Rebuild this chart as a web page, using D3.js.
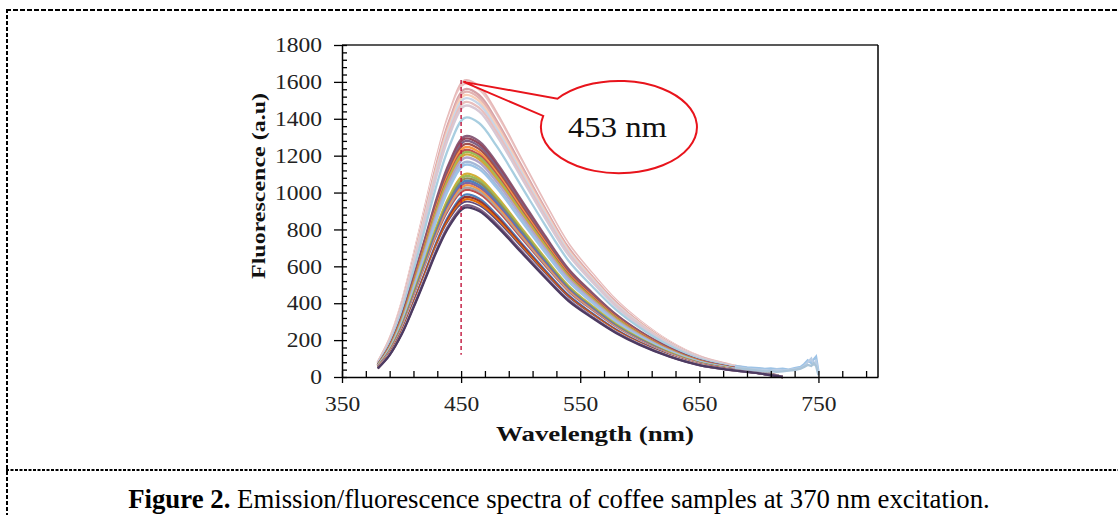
<!DOCTYPE html>
<html>
<head>
<meta charset="utf-8">
<script src="https://cdn.jsdelivr.net/npm/d3@7"></script>
<style>
  body { margin: 0; background: #fff; }
  svg { display: block; }
  text { font-family: "Liberation Serif", "Times New Roman", serif; }
</style>
</head>
<body>
<div id="chart"></div>
<script>
// ---- data ----
const wavelengths = [380, 390, 400, 410, 420, 430, 440, 453, 465, 480, 500, 520, 540, 560, 580, 600, 625, 650, 675, 700, 720];

// one row per coffee sample (fluorescence, a.u.)
const spectra = [
  [80, 209, 402, 659, 933, 1206, 1431, 1608, 1576, 1431, 1190, 949, 724, 563, 418, 306, 193, 113, 68, 35, 0],
  [80, 207, 398, 652, 922, 1193, 1415, 1590, 1558, 1415, 1177, 938, 716, 557, 413, 302, 191, 111, 67, 35, 0],
  [79, 205, 394, 645, 913, 1181, 1401, 1574, 1543, 1401, 1165, 929, 708, 551, 409, 299, 189, 110, 66, 35, 0],
  [78, 203, 390, 640, 905, 1170, 1388, 1560, 1529, 1388, 1154, 920, 702, 546, 406, 296, 187, 109, 66, 34, 0],
  [77, 201, 386, 633, 896, 1159, 1375, 1545, 1514, 1375, 1143, 912, 695, 541, 402, 294, 185, 108, 65, 34, 0],
  [76, 199, 382, 626, 886, 1146, 1360, 1528, 1497, 1360, 1131, 902, 688, 535, 397, 290, 183, 107, 64, 34, 0],
  [76, 196, 378, 619, 876, 1133, 1344, 1510, 1480, 1344, 1117, 891, 680, 529, 393, 287, 181, 106, 63, 33, 0],
  [75, 194, 373, 611, 864, 1118, 1326, 1490, 1460, 1326, 1103, 879, 671, 522, 387, 283, 179, 104, 63, 33, 0],
  [74, 191, 368, 603, 853, 1103, 1308, 1470, 1441, 1308, 1088, 867, 662, 515, 382, 279, 176, 103, 62, 32, 0],
  [70, 183, 351, 576, 815, 1054, 1250, 1405, 1377, 1250, 1040, 829, 632, 492, 365, 267, 169, 98, 59, 31, 0],
  [65, 170, 326, 535, 757, 979, 1161, 1305, 1279, 1161, 966, 770, 587, 457, 339, 248, 157, 91, 55, 29, 0],
  [65, 168, 323, 530, 749, 969, 1150, 1292, 1266, 1150, 956, 762, 581, 452, 336, 245, 155, 90, 54, 28, 0],
  [64, 166, 320, 524, 741, 959, 1137, 1278, 1252, 1137, 946, 754, 575, 447, 332, 243, 153, 89, 54, 28, 0],
  [63, 164, 316, 517, 732, 947, 1123, 1262, 1237, 1123, 934, 745, 568, 442, 328, 240, 151, 88, 53, 28, 0],
  [62, 162, 311, 510, 722, 934, 1108, 1245, 1220, 1108, 921, 735, 560, 436, 324, 237, 149, 87, 52, 27, 0],
  [62, 160, 308, 504, 713, 923, 1095, 1230, 1205, 1095, 910, 726, 554, 431, 320, 234, 148, 86, 52, 27, 0],
  [61, 158, 305, 499, 706, 914, 1084, 1218, 1194, 1084, 901, 719, 548, 426, 317, 231, 146, 85, 51, 27, 0],
  [60, 157, 301, 494, 699, 904, 1072, 1205, 1181, 1072, 892, 711, 542, 422, 313, 229, 145, 84, 51, 27, 0],
  [59, 154, 297, 487, 689, 891, 1057, 1188, 1164, 1057, 879, 701, 535, 416, 309, 226, 143, 83, 50, 26, 0],
  [58, 151, 291, 478, 676, 874, 1037, 1165, 1142, 1037, 862, 687, 524, 408, 303, 221, 140, 82, 49, 26, 0],
  [58, 150, 288, 472, 667, 863, 1024, 1150, 1127, 1024, 851, 679, 518, 403, 299, 219, 138, 81, 48, 25, 0],
  [55, 143, 275, 451, 638, 825, 979, 1100, 1078, 979, 814, 649, 495, 385, 286, 209, 132, 77, 46, 24, 0],
  [54, 141, 272, 446, 631, 816, 968, 1088, 1066, 968, 805, 642, 490, 381, 283, 207, 131, 76, 46, 24, 0],
  [54, 140, 269, 441, 624, 806, 957, 1075, 1054, 957, 796, 634, 484, 376, 280, 204, 129, 75, 45, 24, 0],
  [53, 138, 266, 435, 616, 797, 945, 1062, 1041, 945, 786, 627, 478, 372, 276, 202, 127, 74, 45, 23, 0],
  [53, 137, 263, 431, 609, 788, 935, 1050, 1029, 935, 777, 620, 473, 368, 273, 200, 126, 74, 44, 23, 0],
  [52, 135, 260, 426, 602, 779, 924, 1038, 1017, 924, 768, 612, 467, 363, 270, 197, 125, 73, 44, 23, 0],
  [51, 133, 256, 420, 595, 769, 912, 1025, 1005, 912, 759, 605, 461, 359, 267, 195, 123, 72, 43, 23, 0],
  [51, 132, 253, 415, 587, 759, 901, 1012, 992, 901, 749, 597, 455, 354, 263, 192, 121, 71, 43, 22, 0],
  [50, 130, 250, 410, 580, 750, 890, 1000, 980, 890, 740, 590, 450, 350, 260, 190, 120, 70, 42, 22, 0],
  [49, 128, 247, 405, 573, 741, 879, 988, 968, 879, 731, 583, 445, 346, 257, 188, 119, 69, 41, 22, 0],
  [49, 127, 244, 400, 566, 731, 868, 975, 956, 868, 722, 575, 439, 341, 254, 185, 117, 68, 41, 21, 0],
  [48, 125, 241, 394, 558, 722, 856, 962, 943, 856, 712, 568, 433, 337, 250, 183, 115, 67, 40, 21, 0],
  [47, 123, 237, 389, 550, 711, 844, 948, 929, 844, 702, 559, 427, 332, 246, 180, 114, 66, 40, 21, 0],
  [47, 122, 235, 385, 544, 704, 835, 938, 919, 835, 694, 553, 422, 328, 244, 178, 113, 66, 39, 21, 0],
  [47, 121, 233, 381, 539, 698, 828, 930, 911, 828, 688, 549, 419, 326, 242, 177, 112, 65, 39, 20, 0],
  [46, 119, 230, 376, 532, 689, 817, 918, 900, 817, 679, 542, 413, 321, 239, 174, 110, 64, 39, 20, 0]
];

// noisy far-red ends of the pale samples
const tailWavelengths = [680, 690, 700, 705, 710, 715, 720, 725, 730, 735, 738, 741, 744, 746, 748, 750];
const tailSpectra = [
  [60, 52, 48, 44, 46, 42, 45, 40, 48, 55, 70, 90, 75, 95, 110, 30],
  [55, 45, 40, 38, 35, 40, 36, 38, 42, 48, 60, 80, 100, 70, 85, 20],
  [50, 42, 35, 30, 32, 28, 30, 35, 38, 45, 55, 65, 60, 75, 60, 10]
];

const xTicks = [350, 450, 550, 650, 750];
const yTicks = [0, 200, 400, 600, 800, 1000, 1200, 1400, 1600, 1800];

const peakLine = { wavelength: 450, from: 120, to: 1610 };
const peakLabel = "453 nm";

// ---- styles ----
const lineColors = [
  "#E6B9B8", "#ECC6C5", "#FFFFFF", "#D6A2A6", "#E3B3B2", "#F8CFB8", "#C8D6E8", "#E8BFBE", "#D8C8D4", "#A8CEE0",
  "#8A5F7C", "#93485C", "#7E6286", "#A0504F", "#F79646", "#C0504D", "#9BBB59", "#D0A63A", "#B3A2C7", "#A6B8D8", "#9DC3E6",
  "#D4AF37", "#9BBB59", "#948A54", "#4F81BD", "#8064A2", "#F79646", "#A5A5A5", "#C0504D", "#FFFFFF", "#4F81BD",
  "#943634", "#E46C0A", "#604A7B", "#FFFFFF", "#7F6084", "#4D3B62"
];
const tailColors = ["#9DC3E6", "#B9CDE5", "#A9C4D8"];

const width = 1118, height = 515;
const plot = { left: 342, right: 878, top: 45, bottom: 377 };

const svg = d3.select("#chart").append("svg")
  .attr("width", width)
  .attr("height", height);

// dashed table-cell frame around the figure
const frame = svg.append("g").attr("stroke", "#000").attr("stroke-width", 2);
frame.append("line").attr("x1", 6).attr("x2", width).attr("y1", 10).attr("y2", 10)
  .attr("stroke-dasharray", "5,2");
frame.append("line").attr("x1", 7).attr("x2", 7).attr("y1", 9).attr("y2", height)
  .attr("stroke-dasharray", "4,2");
frame.append("line").attr("x1", 6).attr("x2", width).attr("y1", 470).attr("y2", 470)
  .attr("stroke-dasharray", "3,1.5");

// scales
const x = d3.scaleLinear().domain([350, 800]).range([plot.left, plot.right]);
const y = d3.scaleLinear().domain([0, 1800]).range([plot.bottom, plot.top]);

// plot-area border (top grey, right black)
svg.append("line")
  .attr("x1", plot.left).attr("x2", plot.right)
  .attr("y1", plot.top).attr("y2", plot.top)
  .attr("stroke", "#595959").attr("stroke-width", 2);
svg.append("line")
  .attr("x1", plot.right).attr("x2", plot.right)
  .attr("y1", plot.top).attr("y2", plot.bottom)
  .attr("stroke", "#000").attr("stroke-width", 1.5);

// spectra
const line = d3.line()
  .x((d, i) => x(wavelengths[i]))
  .y(d => y(d))
  .curve(d3.curveCatmullRom);

svg.append("g")
  .selectAll("path.spectrum")
  .data(spectra)
  .join("path")
  .attr("class", "spectrum")
  .attr("d", line)
  .attr("fill", "none")
  .attr("stroke", (d, i) => lineColors[i])
  .attr("stroke-width", 2.3);

const tailLine = d3.line()
  .x((d, i) => x(tailWavelengths[i]))
  .y(d => y(d))
  .curve(d3.curveLinear);

svg.append("g")
  .selectAll("path.tail")
  .data(tailSpectra)
  .join("path")
  .attr("class", "tail")
  .attr("d", tailLine)
  .attr("fill", "none")
  .attr("stroke", (d, i) => tailColors[i])
  .attr("stroke-width", 2.3);

// axes: major ticks outside, minor ticks inside
const stretch = 1.12;
function widenLabels(sel) {
  sel.each(function () {
    const len = this.getComputedTextLength();
    d3.select(this)
      .attr("textLength", len * stretch)
      .attr("lengthAdjust", "spacingAndGlyphs");
  });
}

const yAxis = svg.append("g")
  .attr("transform", `translate(${plot.left},0)`)
  .call(d3.axisLeft(y).tickValues(yTicks).tickFormat(d3.format("d"))
    .tickSizeInner(8).tickSizeOuter(0).tickPadding(12));
svg.append("g")
  .attr("transform", `translate(${plot.left},0)`)
  .call(d3.axisRight(y).tickValues(d3.range(0, 1801, 40)).tickSize(5).tickFormat(""))
  .call(g => g.select(".domain").remove());

const xAxis = svg.append("g")
  .attr("transform", `translate(0,${plot.bottom})`)
  .call(d3.axisBottom(x).tickValues(xTicks).tickFormat(d3.format("d"))
    .tickSizeInner(6).tickSizeOuter(0).tickPadding(13));
svg.append("g")
  .attr("transform", `translate(0,${plot.bottom})`)
  .call(d3.axisTop(x).tickValues(d3.range(350, 800, 20)).tickSize(6).tickFormat(""))
  .call(g => g.select(".domain").remove());

svg.selectAll(".tick line").attr("stroke", "#000").attr("stroke-width", 1.3);
svg.selectAll(".domain").attr("stroke", "#000").attr("stroke-width", 1.5);

[yAxis, xAxis].forEach(ax => {
  ax.selectAll("text")
    .style("font-family", "'Liberation Serif', 'Times New Roman', serif")
    .style("font-size", "21px")
    .attr("fill", "#222")
    .call(widenLabels);
});

// text fitted to a target length
function placeText(sel, cx, cy, targetLen, angle) {
  const len = sel.node().getComputedTextLength();
  sel.attr("transform", `translate(${cx},${cy}) rotate(${angle}) scale(${targetLen / len},1)`);
}

const yTitle = svg.append("text")
  .attr("text-anchor", "middle")
  .attr("font-weight", "bold")
  .style("font-size", "18px")
  .attr("fill", "#111")
  .text("Fluorescence (a.u)");
placeText(yTitle, 265, 186, 186, -90);

const xTitle = svg.append("text")
  .attr("text-anchor", "middle")
  .attr("font-weight", "bold")
  .style("font-size", "22px")
  .attr("fill", "#111")
  .text("Wavelength (nm)");
placeText(xTitle, 595, 441, 198, 0);

// peak marker
svg.append("line")
  .attr("x1", x(peakLine.wavelength)).attr("x2", x(peakLine.wavelength))
  .attr("y1", y(peakLine.to)).attr("y2", y(peakLine.from))
  .attr("stroke", "#C0143C").attr("stroke-width", 1.4)
  .attr("stroke-dasharray", "4,3");

// callout bubble, in data units
const bubble = { cx: 582.5, cy: 1355, rx: 65.5, ry: 250, apexW: 452, apexV: 1600 };
const bx = x(bubble.cx), by = y(bubble.cy);
const brx = x(bubble.cx + bubble.rx) - bx, bry = by - y(bubble.cy + bubble.ry);
const onEllipse = deg => [bx + brx * Math.cos(deg * Math.PI / 180), by + bry * Math.sin(deg * Math.PI / 180)];
const p1 = onEllipse(218), p2 = onEllipse(194);
svg.append("path")
  .attr("d", `M${p1[0]},${p1[1]} A${brx},${bry} 0 1 1 ${p2[0]},${p2[1]} L${x(bubble.apexW)},${y(bubble.apexV)} Z`)
  .attr("fill", "#fff")
  .attr("stroke", "#E8141C")
  .attr("stroke-width", 2);

const label = svg.append("text")
  .attr("text-anchor", "middle")
  .style("font-size", "29px")
  .attr("fill", "#111")
  .text(peakLabel);
placeText(label, 617.5, 137, 99, 0);

// caption
const caption = svg.append("text")
  .attr("text-anchor", "middle")
  .style("font-size", "28px")
  .attr("fill", "#000");
caption.append("tspan").attr("font-weight", "bold").text("Figure 2.");
caption.append("tspan").text(" Emission/fluorescence spectra of coffee samples at 370 nm excitation.");
placeText(caption, 559, 508, 862, 0);
</script>
</body>
</html>
